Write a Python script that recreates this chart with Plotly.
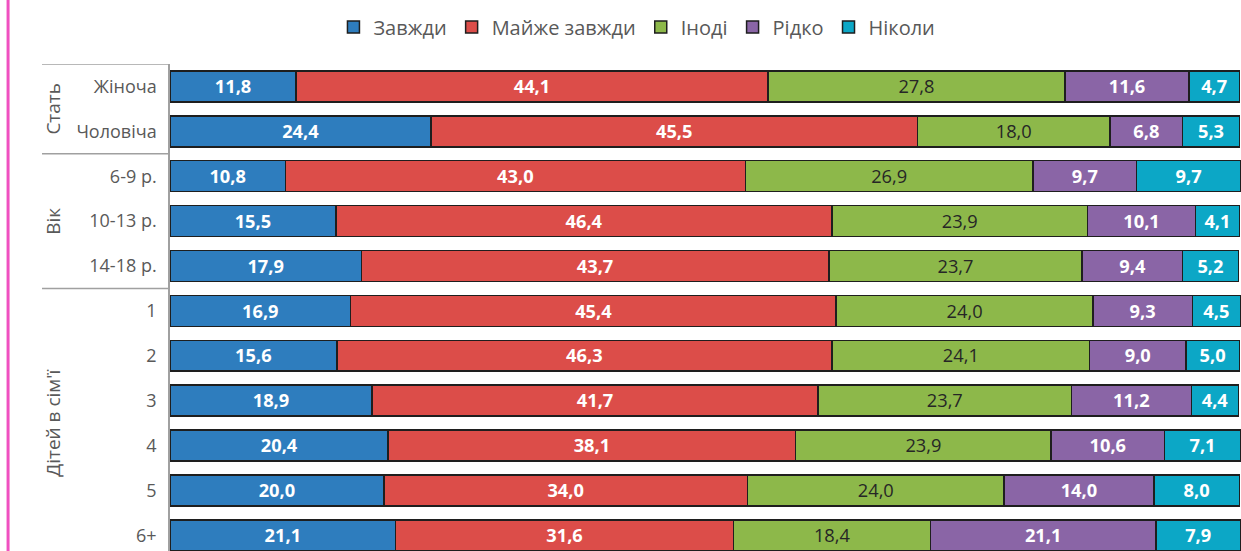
import plotly.graph_objects as go

categories = ["Жіноча", "Чоловіча", "6-9 р.", "10-13 р.", "14-18 р.", "1", "2", "3", "4", "5", "6+"]
series_names = ["Завжди", "Майже завжди", "Іноді", "Рідко", "Ніколи"]
zavzhdy = [11.8, 24.4, 10.8, 15.5, 17.9, 16.9, 15.6, 18.9, 20.4, 20.0, 21.1]
mayzhe = [44.1, 45.5, 43.0, 46.4, 43.7, 45.4, 46.3, 41.7, 38.1, 34.0, 31.6]
inodi = [27.8, 18.0, 26.9, 23.9, 23.7, 24.0, 24.1, 23.7, 23.9, 24.0, 18.4]
ridko = [11.6, 6.8, 9.7, 10.1, 9.4, 9.3, 9.0, 11.2, 10.6, 14.0, 21.1]
nikoly = [4.7, 5.3, 9.7, 4.1, 5.2, 4.5, 5.0, 4.4, 7.1, 8.0, 7.9]
groups = ["Стать", "Вік", "Дітей в сім'ї"]
group_members = [[0, 1], [2, 3, 4], [5, 6, 7, 8, 9, 10]]

colors = ["#2E7DBE", "#DC4D49", "#8DB84A", "#8A65A6", "#0CA7C6"]
text_colors = ["white", "white", "#262626", "white", "white"]
text_weights = ["bold", "bold", "normal", "bold", "bold"]

FONT = "Open Sans"
GRAY = "#595959"

ypos = list(range(len(categories)))
fig = go.Figure()
for name, vals, c, tc, tw in zip(series_names, [zavzhdy, mayzhe, inodi, ridko, nikoly],
                                 colors, text_colors, text_weights):
    fig.add_trace(go.Bar(
        y=ypos, x=vals, name=name, orientation="h",
        marker=dict(color=c, line=dict(color="#1E1E1E", width=1.5)),
        text=[f"{v:.1f}".replace(".", ",") for v in vals],
        textposition="inside", insidetextanchor="middle", textangle=0,
        insidetextfont=dict(family=FONT, size=19, color=tc, weight=tw),
        cliponaxis=False,
    ))

# group separators (left side)
bounds = [-0.5, 1.5, 4.5]
shapes = []
for b in bounds:
    shapes.append(dict(type="line", xref="paper", yref="y", x0=-0.1195, x1=-0.001,
                       y0=b, y1=b, line=dict(color="#A0A0A0", width=1.5)))
# pink page border on the left
shapes.append(dict(type="line", xref="paper", yref="paper", x0=-0.1512, x1=-0.1512,
                   y0=-0.05, y1=1.2, line=dict(color="#F050C0", width=3)))

annotations = []
for g, mem in zip(groups, group_members):
    annotations.append(dict(text=g, xref="paper", yref="y", x=-0.1095, xanchor="center",
                            yanchor="middle", y=sum(mem) / len(mem), textangle=-90,
                            showarrow=False,
                            font=dict(family=FONT, size=19, color=GRAY)))

fig.update_layout(
    width=1241, height=551,
    margin=dict(l=170, r=0, t=64, b=0),
    barmode="stack", bargap=0.31,
    plot_bgcolor="white", paper_bgcolor="white",
    xaxis=dict(range=[0, 100.15], visible=False, fixedrange=True),
    yaxis=dict(range=[10.35, -0.5], tickvals=ypos, ticktext=categories,
               showline=True, linecolor="#A0A0A0", linewidth=1.5,
               showgrid=False, zeroline=False, ticks="",
               ticklabelstandoff=8,
               tickfont=dict(family=FONT, size=18, color=GRAY)),
    legend=dict(orientation="h", x=0.436, xanchor="center", y=1.076, yanchor="middle",
                font=dict(family=FONT, size=20, color=GRAY),
                itemwidth=30, traceorder="normal"),
    shapes=shapes,
    annotations=annotations,
)

fig.write_html("out.html", config={"displayModeBar": False},
               post_script="document.body.style.margin='0';document.body.style.overflow='hidden';")
